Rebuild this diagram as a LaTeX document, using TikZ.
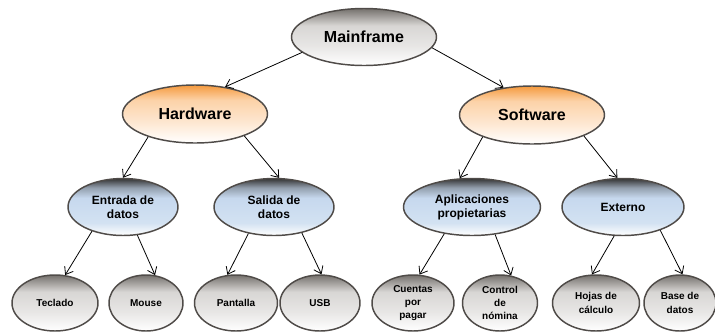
\documentclass[tikz,border=0pt]{standalone}
\usepackage{fontspec}
\setmainfont{Liberation Sans}
\usetikzlibrary{arrows.meta,shapes.geometric}
\definecolor{bordc}{HTML}{4F4B48}
\definecolor{grayA}{HTML}{75716D}
\definecolor{grayB}{HTML}{D8D6D4}
\definecolor{orA}{HTML}{F59A3E}
\definecolor{orB}{HTML}{FCD2A8}
\definecolor{blA}{HTML}{333333}
\definecolor{blB}{HTML}{C6D8EE}
\definecolor{blC}{HTML}{D3E2F2}
\pgfdeclareverticalshading{grayshd}{100bp}{color(0bp)=(white); color(25bp)=(white); color(42bp)=(grayB!60!white); color(60bp)=(grayB); color(75bp)=(grayA); color(100bp)=(grayA)}
\pgfdeclareverticalshading{orshd}{100bp}{color(0bp)=(white); color(25bp)=(white); color(42bp)=(orB!50!white); color(62bp)=(orB); color(75bp)=(orA); color(100bp)=(orA)}
\pgfdeclareverticalshading{blshd}{100bp}{color(0bp)=(white); color(25bp)=(white); color(36bp)=(blC); color(58bp)=(blB); color(67bp)=(blB!65!blA); color(75bp)=(blA); color(100bp)=(blA)}
\tikzset{
  ell/.style={ellipse, draw=bordc, line width=1.1pt, inner sep=0pt, align=center, text=black},
  lvlA/.style={ell, shading=grayshd, font=\bfseries\fontsize{12}{14}\selectfont},
  lvlB/.style={ell, shading=orshd, font=\bfseries\fontsize{12}{14}\selectfont},
  lvlC/.style={ell, shading=blshd, font=\bfseries\fontsize{9}{10.5}\selectfont},
  lvlD/.style={ell, shading=grayshd, font=\bfseries\fontsize{7.5}{10}\selectfont},
  arr/.style={-{Straight Barb[length=5pt,width=7.5pt]}, line width=0.6pt, black}
}
\begin{document}
\begin{tikzpicture}[x=0.75pt,y=-0.75pt]
\useasboundingbox (0,0) rectangle (715,333);
% level 1
\node[lvlA, minimum width=108.75pt, minimum height=42.75pt] (mf) at (364,37) {Mainframe};
% level 2
\node[lvlB, minimum width=108.75pt, minimum height=43.5pt] (hw) at (195,114) {Hardware};
\node[lvlB, minimum width=108.75pt, minimum height=43.5pt] (sw) at (532,115) {Software};
% level 3
\node[lvlC, minimum width=82.5pt, minimum height=42.75pt] (ent) at (123,207) {Entrada de\\datos};
\node[lvlC, minimum width=90pt, minimum height=42.75pt] (sal) at (274,207) {Salida de\\datos};
\node[lvlC, minimum width=102.75pt, minimum height=42.75pt] (apl) at (472,207) {Aplicaciones\\propietarias};
\node[lvlC, minimum width=91.5pt, minimum height=42.75pt] (ext) at (623,207) {Externo};
% level 4
\node[lvlD, minimum width=64.5pt, minimum height=42pt] (tec) at (55,303) {Teclado};
\node[lvlD, minimum width=55.5pt, minimum height=42pt] (mou) at (146,303) {Mouse};
\node[lvlD, minimum width=62.25pt, minimum height=42pt] (pan) at (236,303) {Pantalla};
\node[lvlD, minimum width=60pt, minimum height=42pt] (usb) at (320,303) {USB};
\node[lvlD, minimum width=61.5pt, minimum height=42pt] (cue) at (413,303) {Cuentas\\por\\pagar};
\node[lvlD, minimum width=56.25pt, minimum height=42pt] (con) at (500,303) {Control\\de\\nómina};
\node[lvlD, minimum width=65.25pt, minimum height=42pt] (hoj) at (596,303) {Hojas de\\cálculo};
\node[lvlD, minimum width=54pt, minimum height=42pt] (bas) at (680,303) {Base de\\datos};
% connectors
\draw[arr] (mf.194) -- (hw.42);
\draw[arr] (mf.351) -- (sw.136);
\draw[arr] (hw.206) -- (ent.90);
\draw[arr] (hw.336) -- (sal.80);
\draw[arr] (sw.204) -- (apl.113);
\draw[arr] (sw.338) -- (ext.101);
\draw[arr] (ent.218) -- (tec.70);
\draw[arr] (ent.297) -- (mou.72);
\draw[arr] (sal.226) -- (pan.107);
\draw[arr] (sal.317) -- (usb.87);
\draw[arr] (apl.224) -- (cue.77);
\draw[arr] (apl.310) -- (con.68);
\draw[arr] (ext.253) -- (hoj.98);
\draw[arr] (ext.328) -- (bas.85);
\end{tikzpicture}
\end{document}
